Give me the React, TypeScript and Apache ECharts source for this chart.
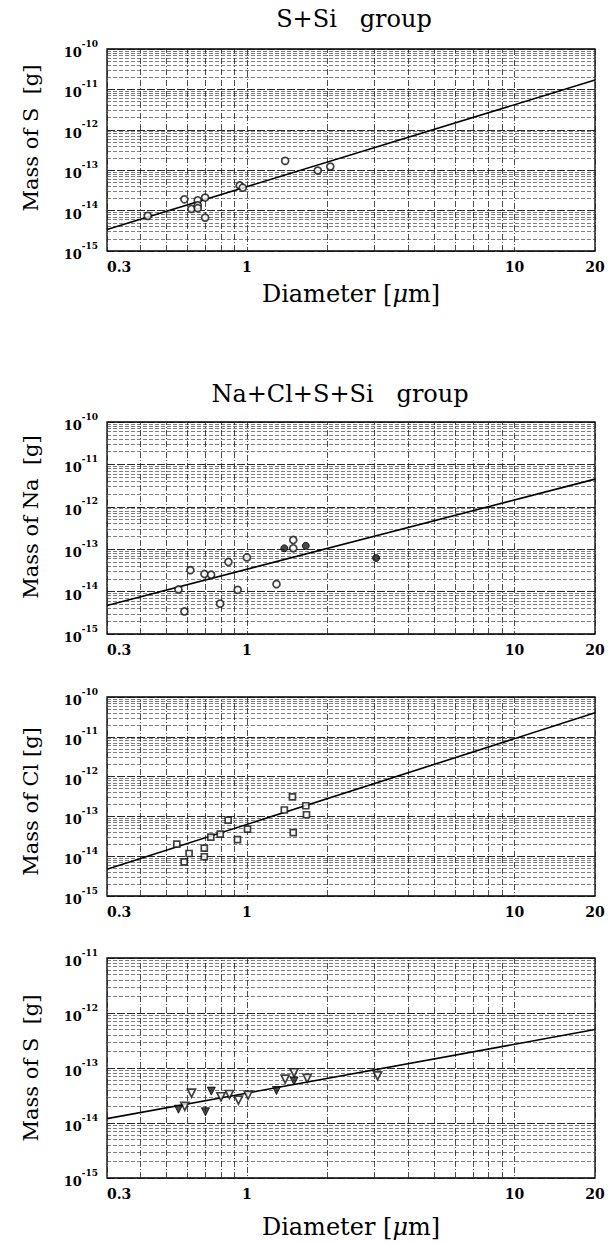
import React, { useEffect, useRef } from 'react';
import * as echarts from 'echarts';

const FONT = '"DejaVu Serif", serif';

// ---------- Panel 1: S+Si group, mass of S ----------
const p1Diam = [0.426, 0.584, 0.62, 0.655, 0.655, 0.655, 0.698, 0.698, 0.94, 0.965, 1.39, 1.84, 2.05];
const p1Mass = [7.4e-15, 1.9e-14, 1.1e-14, 1.8e-14, 1.35e-14, 1.15e-14, 2.1e-14, 6.7e-15, 4.2e-14, 3.7e-14, 1.7e-13, 9.8e-14, 1.23e-13];
const p1Fit = [[0.3, 3.4e-15], [20, 1.7e-11]];

// ---------- Panel 2: Na+Cl+S+Si group, mass of Na ----------
const p2OpenDiam = [0.555, 0.584, 0.615, 0.694, 0.735, 0.794, 0.853, 0.924, 1.0, 1.29, 1.49, 1.49];
const p2OpenMass = [1.12e-14, 3.4e-15, 3.2e-14, 2.6e-14, 2.5e-14, 5.2e-15, 5.0e-14, 1.1e-14, 6.4e-14, 1.5e-14, 1.65e-13, 1.05e-13];
const p2FillDiam = [1.38, 1.66, 3.04];
const p2FillMass = [1.05e-13, 1.2e-13, 6.2e-14];
const p2Fit = [[0.3, 4.7e-15], [20, 4.5e-12]];

// ---------- Panel 3: mass of Cl ----------
const p3Diam = [0.547, 0.583, 0.608, 0.693, 0.693, 0.733, 0.795, 0.851, 0.922, 1.005, 1.38, 1.48, 1.49, 1.66, 1.67];
const p3Mass = [2.0e-14, 7.2e-15, 1.17e-14, 1.6e-14, 9.7e-15, 3.0e-14, 3.6e-14, 8.1e-14, 2.6e-14, 4.8e-14, 1.45e-13, 3.1e-13, 3.9e-14, 1.85e-13, 1.1e-13];
const p3Fit = [[0.3, 4.7e-15], [20, 4e-11]];

// ---------- Panel 4: mass of S ----------
const p4OpenDiam = [0.586, 0.621, 0.8, 0.86, 0.93, 1.01, 1.39, 1.5, 1.68, 3.08];
const p4OpenMass = [2.0e-14, 3.5e-14, 3.0e-14, 3.3e-14, 2.6e-14, 3.2e-14, 6.3e-14, 8.2e-14, 6.5e-14, 7.2e-14];
const p4FillDiam = [0.555, 0.7, 0.736, 1.29, 1.5];
const p4FillMass = [1.78e-14, 1.6e-14, 3.8e-14, 3.9e-14, 5.8e-14];
const p4Fit = [[0.3, 1.2e-14], [20, 5e-13]];

// ---------- Axes ----------
const xTicks = [0.3, 1, 10, 20];
const xTickLabels = ['0.3', '1', '10', '20'];
const xMinorGrid = [0.4, 0.5, 0.6, 0.7, 0.8, 0.9, 2, 3, 4, 5, 6, 7, 8, 9];
const minorMultipliers = [2, 3, 4, 5, 6, 7, 8, 9];
const yRanges = [
  [1e-15, 1e-10],
  [1e-15, 1e-10],
  [1e-15, 1e-10],
  [1e-15, 1e-11],
];
const yNames = ['Mass of S  [g]', 'Mass of Na  [g]', 'Mass of Cl [g]', 'Mass of S  [g]'];
const titles = ['S+Si   group', 'Na+Cl+S+Si   group'];
const xName = '{n|Diameter [}{i|μ}{n|m]}';

const grids = [
  { left: 107, top: 49, width: 488, height: 202 },
  { left: 107, top: 422, width: 488, height: 212 },
  { left: 107, top: 697, width: 488, height: 199 },
  { left: 107, top: 958, width: 488, height: 220 },
];
// rotated name: left padding moves it up, right padding moves it down
const yNamePadding = [
  [0, 0, 0, 24],
  [0, 0, 0, 22],
  [0, 10, 0, 0],
  [0, 0, 0, 0],
];

const zip = (a: number[], b: number[]) => a.map((v, i) => [v, b[i]]);

function minorY(range: number[]) {
  const out: number[] = [];
  const e0 = Math.round(Math.log10(range[0]));
  const e1 = Math.round(Math.log10(range[1]));
  for (let e = e0; e < e1; e++) {
    for (const m of minorMultipliers) out.push(Number((m * Math.pow(10, e)).toPrecision(3)));
  }
  return out;
}

const gridLineStyle = { color: '#333', width: 0.7, type: [4, 2] as any, opacity: 0.9 };
const vLineStyle = { color: '#222', width: 0.8, type: [6, 2, 1, 2] as any };

function buildOption() {
  const xAxis: any[] = [];
  const yAxis: any[] = [];
  const series: any[] = [];

  grids.forEach((g, i) => {
    const withName = i === 0 || i === 3;
    xAxis.push({
      type: 'log',
      logBase: 10,
      gridIndex: i,
      min: 0.3,
      max: 20,
      axisLine: { show: false },
      axisTick: { show: false },
      splitLine: { show: true, lineStyle: vLineStyle },
      axisLabel: {
        show: true,
        showMinLabel: true,
        showMaxLabel: true,
        alignMinLabel: 'left',
        margin: 9,
        color: '#000',
        fontFamily: FONT,
        fontWeight: 'bold',
        fontSize: 14,
        formatter: (v: number) => {
          let best = 0;
          xTicks.forEach((t, k) => {
            if (Math.abs(Math.log10(t) - Math.log10(v)) < Math.abs(Math.log10(xTicks[best]) - Math.log10(v))) best = k;
          });
          return xTickLabels[best];
        },
      },
      name: withName ? xName : '',
      nameLocation: 'middle',
      nameGap: i === 0 ? 31 : 37,
      nameTextStyle: {
        color: '#000',
        rich: {
          n: { fontFamily: FONT, fontSize: 24, color: '#000' },
          i: { fontFamily: FONT, fontSize: 24, fontStyle: 'italic', color: '#000' },
        },
      },
    });
    const r = yRanges[i];
    yAxis.push({
      type: 'log',
      logBase: 10,
      gridIndex: i,
      min: r[0],
      max: r[1],
      splitNumber: Math.round(Math.log10(r[1]) - Math.log10(r[0])),
      axisLine: { show: false },
      axisTick: { show: false },
      splitLine: { show: true, lineStyle: { color: '#111', width: 0.9, type: [8, 2] } },
      axisLabel: {
        margin: 9,
        formatter: (v: number) => `{b|10}{s|${Math.round(Math.log10(v))}}`,
        rich: {
          b: { fontFamily: FONT, fontWeight: 'bold', fontSize: 13, color: '#000', lineHeight: 20, verticalAlign: 'bottom' },
          s: { fontFamily: FONT, fontWeight: 'bold', fontSize: 9, color: '#000', lineHeight: 20, verticalAlign: 'top' },
        },
      },
      name: yNames[i],
      nameLocation: 'middle',
      nameRotate: 90,
      nameGap: 66,
      nameTextStyle: { fontFamily: FONT, fontSize: 21, color: '#000', padding: yNamePadding[i] },
    });
  });

  const mkGrid = (i: number) => ({
    silent: true,
    symbol: 'none',
    precision: 20,
    label: { show: false },
    emphasis: { disabled: true },
    animation: false,
    data: [
      ...minorY(yRanges[i]).map((v) => ({ yAxis: v, lineStyle: gridLineStyle })),
      ...xMinorGrid.map((v) => ({ xAxis: v, lineStyle: vLineStyle })),
    ],
  });

  const fits = [p1Fit, p2Fit, p3Fit, p4Fit];
  fits.forEach((f, i) => {
    series.push({
      type: 'line',
      xAxisIndex: i,
      yAxisIndex: i,
      data: f,
      symbol: 'none',
      lineStyle: { color: '#000', width: 1.6 },
      z: 5,
      markLine: mkGrid(i),
    });
  });

  const open = { color: '#fff', borderColor: '#111', borderWidth: 1.7 };
  const filled = { color: '#1a1a1a', borderColor: '#000', borderWidth: 1 };

  series.push({ type: 'scatter', xAxisIndex: 0, yAxisIndex: 0, data: zip(p1Diam, p1Mass), symbol: 'circle', symbolSize: 7, itemStyle: open, z: 6 });
  series.push({ type: 'scatter', xAxisIndex: 1, yAxisIndex: 1, data: zip(p2OpenDiam, p2OpenMass), symbol: 'circle', symbolSize: 7, itemStyle: open, z: 6 });
  series.push({ type: 'scatter', xAxisIndex: 1, yAxisIndex: 1, data: zip(p2FillDiam, p2FillMass), symbol: 'circle', symbolSize: 7, itemStyle: filled, z: 6 });
  series.push({ type: 'scatter', xAxisIndex: 2, yAxisIndex: 2, data: zip(p3Diam, p3Mass), symbol: 'rect', symbolSize: 6, itemStyle: open, z: 6 });
  series.push({ type: 'scatter', xAxisIndex: 3, yAxisIndex: 3, data: zip(p4OpenDiam, p4OpenMass), symbol: 'triangle', symbolRotate: 180, symbolSize: 8, itemStyle: open, z: 6 });
  series.push({ type: 'scatter', xAxisIndex: 3, yAxisIndex: 3, data: zip(p4FillDiam, p4FillMass), symbol: 'triangle', symbolRotate: 180, symbolSize: 8, itemStyle: filled, z: 6 });

  return {
    animation: false,
    backgroundColor: '#fff',
    grid: grids.map((g) => ({ ...g, show: true, borderColor: '#000', borderWidth: 1.3, backgroundColor: 'transparent', containLabel: false })),
    xAxis,
    yAxis,
    series,
    graphic: [
      { type: 'text', x: 354, y: 19, style: { text: titles[0], fontFamily: FONT, fontSize: 24, fill: '#000', align: 'center', verticalAlign: 'middle' } },
      { type: 'text', x: 340, y: 394, style: { text: titles[1], fontFamily: FONT, fontSize: 24, fill: '#000', align: 'center', verticalAlign: 'middle' } },
    ],
  };
}

export default function App() {
  const ref = useRef<HTMLDivElement>(null);
  useEffect(() => {
    if (!ref.current) return;
    const chart = echarts.init(ref.current, null, { renderer: 'svg' });
    chart.setOption(buildOption() as any);
    return () => chart.dispose();
  }, []);
  return (
    <div
      ref={ref}
      style={{ position: 'absolute', left: 0, top: 0, width: 610, height: 1243, background: '#fff' }}
    />
  );
}
